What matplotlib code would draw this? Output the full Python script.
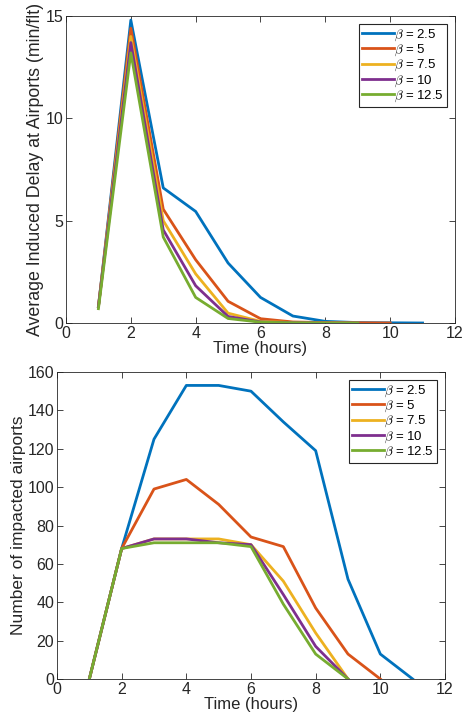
#!/usr/bin/env python
# two panels: induced delay and impacted airports vs time, for several beta values
import matplotlib
matplotlib.use("Agg")
import matplotlib.pyplot as plt

plt.rcParams['font.family'] = ['Liberation Sans', 'DejaVu Sans']
plt.rcParams['mathtext.fontset'] = 'cm'

# data
betas = ["2.5", "5", "7.5", "10", "12.5"]
colors = ["#0072BD", "#D95319", "#EDB120", "#7E2F8E", "#77AC30"]

# top panel: average induced delay (min/flt)
delay_t = [
    [1, 2, 3, 4, 5, 6, 7, 8, 9, 10, 11],
    [1, 2, 3, 4, 5, 6, 7, 8, 9, 10],
    [1, 2, 3, 4, 5, 6, 7, 8, 9],
    [1, 2, 3, 4, 5, 6, 7, 8, 9],
    [1, 2, 3, 4, 5, 6, 7, 8, 9],
]
delay = [
    [0.8, 14.8, 6.6, 5.45, 2.93, 1.25, 0.34, 0.08, 0.02, 0.01, 0.0],
    [0.8, 14.4, 5.56, 3.09, 1.06, 0.21, 0.05, 0.02, 0.01, 0.0],
    [0.8, 14.0, 5.0, 2.4, 0.48, 0.08, 0.02, 0.01, 0.0],
    [0.8, 13.7, 4.55, 1.82, 0.32, 0.05, 0.01, 0.0, 0.0],
    [0.7, 13.2, 4.2, 1.25, 0.22, 0.04, 0.01, 0.0, 0.0],
]

# bottom panel: number of impacted airports
airports_t = [
    [1, 2, 3, 4, 5, 6, 7, 8, 9, 10, 11],
    [1, 2, 3, 4, 5, 6, 7, 8, 9, 10],
    [1, 2, 3, 4, 5, 6, 7, 8, 9],
    [1, 2, 3, 4, 5, 6, 7, 8, 9],
    [1, 2, 3, 4, 5, 6, 7, 8, 9],
]
airports = [
    [0, 68, 125, 153, 153, 150, 134, 119, 52, 13, 0],
    [0, 68, 99, 104, 91, 74, 69, 37, 13, 0],
    [0, 68, 73, 73, 73, 70, 51, 24, 0],
    [0, 68, 73, 73, 71, 70, 44, 17, 0],
    [0, 68, 71, 71, 71, 69, 39, 13, 0],
]

W, H = 464, 713
fig = plt.figure(figsize=(W / 100, H / 100), dpi=100)
ax1 = fig.add_axes([66 / W, 1 - 323 / H, (455 - 66) / W, (323 - 16) / H])
ax2 = fig.add_axes([57 / W, 1 - 679 / H, (445 - 57) / W, (679 - 372) / H])


def style(ax, ylim, yticks, ylabel, ysize):
    ax.set_xlim(0, 12)
    ax.set_xticks(range(0, 13, 2))
    ax.set_ylim(*ylim)
    ax.set_yticks(yticks)
    ax.tick_params(direction='in', top=True, right=True, labelsize=11.5,
                   length=4, width=0.6, colors='#262626', pad=2)
    for s in ax.spines.values():
        s.set_linewidth(0.6)
        s.set_color('#262626')
    ax.set_xlabel('Time (hours)', fontsize=12, labelpad=0, color='#262626')
    ax.set_ylabel(ylabel, fontsize=ysize, labelpad=1, color='#262626')
    leg = ax.legend(loc='upper right', fontsize=9.5, handlelength=2.4,
                    handletextpad=0.0, labelspacing=0.0, borderpad=0.25,
                    borderaxespad=0.6, fancybox=False, framealpha=1)
    leg.get_frame().set_edgecolor('#262626')
    leg.get_frame().set_linewidth(0.8)


for t, y, b, c in zip(delay_t, delay, betas, colors):
    ax1.plot(t, y, color=c, lw=2, label=r'$\beta$ = ' + b)
style(ax1, (0, 15), [0, 5, 10, 15], 'Average Induced Delay at Airports (min/flt)', 12.8)

for t, y, b, c in zip(airports_t, airports, betas, colors):
    ax2.plot(t, y, color=c, lw=2, label=r'$\beta$ = ' + b)
style(ax2, (0, 160), range(0, 161, 20), 'Number of impacted airports', 12.5)

fig.savefig('out.png', dpi=100)
